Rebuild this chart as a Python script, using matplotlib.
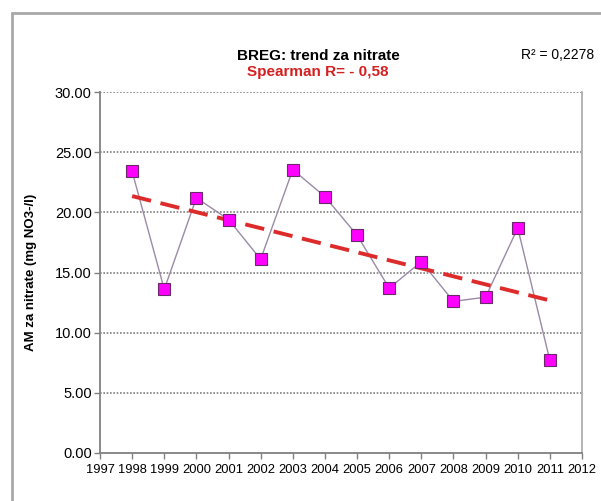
import numpy as np
import matplotlib
matplotlib.use('Agg')
import matplotlib.pyplot as plt
import matplotlib.font_manager as fm
from matplotlib.patches import Rectangle

# podaci
godine = [1998, 1999, 2000, 2001, 2002, 2003, 2004, 2005, 2006, 2007, 2008, 2009, 2010, 2011]
nitrati = [23.4, 13.6, 21.2, 19.4, 16.1, 23.55, 21.3, 18.1, 13.7, 15.9, 12.6, 12.95, 18.7, 7.7]
x_ticks = list(range(1997, 2013))
y_ticks = [0, 5, 10, 15, 20, 25, 30]

# uski font ako postoji
names = {f.name for f in fm.fontManager.ttflist}
font = 'Liberation Sans Narrow' if 'Liberation Sans Narrow' in names else 'Liberation Sans'
plt.rcParams['font.family'] = [font, 'DejaVu Sans']

W, H = 601, 501
fig = plt.figure(figsize=(W / 100, H / 100), dpi=100)
fig.patches.append(Rectangle((12 / W, -0.1), 1.2, 1 - 13 / H + 0.1, transform=fig.transFigure,
                             fill=False, edgecolor='#a8a8a8', linewidth=2))

ax = fig.add_axes([100 / W, 1 - 453 / H, (582 - 100) / W, (453 - 92) / H])
ax.set_xlim(1997, 2012)
ax.set_ylim(0, 30)

for y in y_ticks[1:]:
    ax.axhline(y, color='#808080', linestyle=(0, (1, 1)), linewidth=1.2, zorder=1)

ax.plot(godine, nitrati, color='#9a8aa8', linewidth=1, zorder=2)
ax.plot(godine, nitrati, linestyle='none', marker='s', markersize=8,
        markerfacecolor='#ff00ff', markeredgecolor='#6a2a6a', markeredgewidth=0.8, zorder=4)

# linearni trend
k, n = np.polyfit(godine, nitrati, 1)
xt = np.array([godine[0], godine[-1]])
ax.plot(xt, k * xt + n, color='#dd2a2a', linestyle=(0, (5, 2.5)), linewidth=2.8, zorder=3)

ax.set_xticks(x_ticks)
ax.set_xticklabels([str(g) for g in x_ticks], fontsize=9.3)
ax.set_yticks(y_ticks)
ax.set_yticklabels(['%.2f' % v for v in y_ticks], fontsize=10.5)
ax.tick_params(axis='both', direction='out', length=4, width=1, color='#808080', pad=2)
ax.tick_params(axis='x', pad=4)

for s in ['left', 'bottom']:
    ax.spines[s].set_color('#808080')
    ax.spines[s].set_linewidth(1.3)
ax.spines['right'].set_color('#b0b0b0')
ax.spines['right'].set_linewidth(1.3)
ax.spines['top'].set_visible(False)

ax.set_ylabel('AM za nitrate (mg NO3-/l)', fontsize=9.5, fontweight='bold',
              family=['Liberation Sans', 'DejaVu Sans'])
ax.yaxis.set_label_coords(-(100 - 37) / (582 - 100), 0.5)

fig.text(318 / W, 1 - 56 / H, 'BREG: trend za nitrate', ha='center', va='center',
         fontsize=11, fontweight='bold')
fig.text(318 / W, 1 - 72 / H, 'Spearman R= - 0,58', ha='center', va='center',
         fontsize=11, fontweight='bold', color='#d42020')
fig.text(558 / W, 1 - 55 / H, 'R² = 0,2278', ha='center', va='center', fontsize=10)

fig.savefig('out.png', dpi=100)
